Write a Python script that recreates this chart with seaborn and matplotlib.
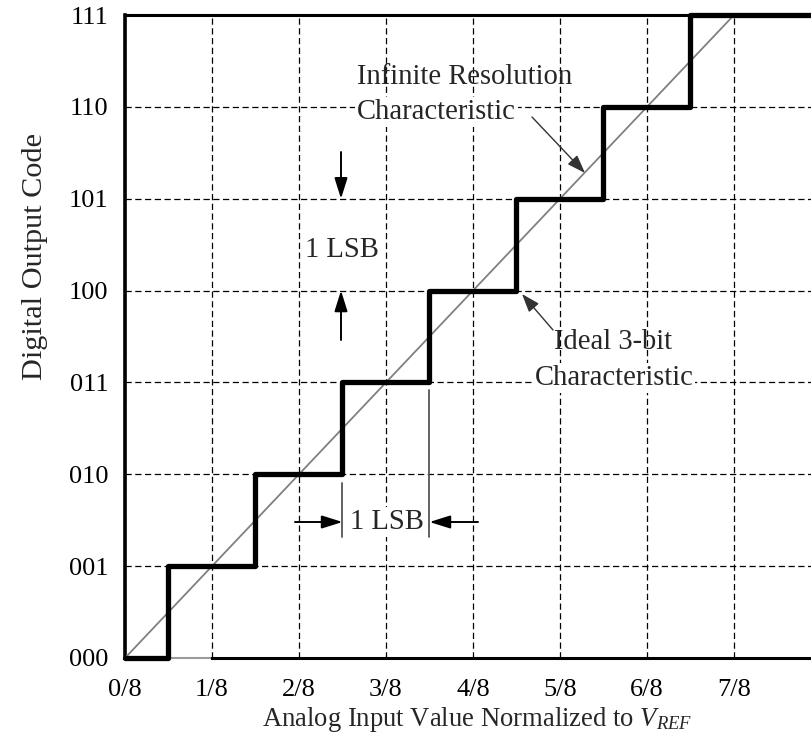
import matplotlib
matplotlib.use("Agg")
import matplotlib.pyplot as plt
import seaborn as sns
import numpy as np
import pandas as pd

# ---- data ----
codes = [0, 1, 2, 3, 4, 5, 6, 7]
code_labels = ["000", "001", "010", "011", "100", "101", "110", "111"]
step_edges = [0, 0.5, 1.5, 2.5, 3.5, 4.5, 5.5, 6.5, 8]          # in eighths
step_codes = [0, 1, 2, 3, 4, 5, 6, 7, 7]
ideal_x = [0, 7]                                                # in eighths
ideal_y = [0, 7]
x_ticks = [0, 1, 2, 3, 4, 5, 6, 7]
x_tick_labels = ["0/8", "1/8", "2/8", "3/8", "4/8", "5/8", "6/8", "7/8"]
minor_ticks = [0.5, 1.5, 2.5, 3.5, 4.5, 5.5, 6.5, 7.5]

sns.set_style("white")
plt.rcParams["font.family"] = ["Liberation Serif", "DejaVu Serif"]
plt.rcParams["mathtext.fontset"] = "custom"
plt.rcParams["mathtext.rm"] = "Liberation Serif"
plt.rcParams["mathtext.it"] = "Liberation Serif:italic"

W, H = 812, 738
fig = plt.figure(figsize=(W / 100, H / 100), dpi=100)
L, R, T, B = 125, 821, 15, 658
ax = fig.add_axes([L / W, (H - B) / H, (R - L) / W, (B - T) / H])

step_df = pd.DataFrame({"x": np.array(step_edges) / 8, "code": step_codes})
ideal_df = pd.DataFrame({"x": np.array(ideal_x) / 8, "code": ideal_y})

sns.lineplot(data=ideal_df, x="x", y="code", ax=ax, color="#808080", lw=1.3, zorder=3)
sns.lineplot(data=step_df, x="x", y="code", ax=ax, color="black", lw=3.8,
             drawstyle="steps-post", zorder=4, clip_on=False)

ax.set_xlim(0, 1)
ax.set_ylim(0, 7)

ax.set_xticks(np.array(x_ticks) / 8)
ax.set_xticklabels(x_tick_labels)
ax.set_xticks(np.array(minor_ticks) / 8, minor=True)
ax.set_yticks(codes)
ax.set_yticklabels(code_labels)

ax.tick_params(axis="x", which="major", direction="out", length=5, width=0.8,
               labelsize=19, pad=10, colors="black")
ax.tick_params(axis="x", which="minor", direction="in", length=7, width=1.8,
               colors="black")
ax.tick_params(axis="y", which="major", direction="in", length=3.5, width=1.2,
               labelsize=19, pad=12, colors="black")

ax.grid(True, which="major", color="black", lw=0.9, linestyle=(0, (5, 2.8)))
ax.set_axisbelow(True)

for s in ["left", "bottom", "top"]:
    ax.spines[s].set_color("black")
ax.spines["left"].set_linewidth(2.6)
ax.spines["top"].set_linewidth(2.2)
ax.spines["bottom"].set_linewidth(2.2)
ax.spines["right"].set_visible(False)
ax.spines["bottom"].set_bounds(1 / 8, 1)
ax.axhline(0, xmin=0, xmax=1 / 8, color="#9a9a9a", lw=1.5, zorder=2, clip_on=False)

ax.set_xlabel("Analog Input Value Normalized to $V_{REF}$", fontsize=19.2)
ax.xaxis.set_label_coords((477 - L) / (R - L), (B - 720) / (B - T))
ax.xaxis.label.set_va("center")
ax.set_ylabel("Digital Output Code", fontsize=21.8)
ax.yaxis.set_label_coords((35 - L) / (R - L), (B - 256) / (B - T))
ax.yaxis.label.set_va("center")

def px(xp, yp):
    return ((xp - L) / (R - L), (B - yp) / ((B - T) / 7))

arrow = dict(arrowstyle="-|>,head_length=0.7,head_width=0.22", mutation_scale=18,
             lw=1.4, color="black", shrinkA=0, shrinkB=0)
thin_arrow = dict(arrowstyle="-|>,head_length=0.7,head_width=0.25", mutation_scale=16,
                  lw=1.0, color="#333333", shrinkA=0, shrinkB=0)
wbox = dict(facecolor="white", edgecolor="none", pad=1.5)
fs = 20.6

# Infinite resolution characteristic
ax.text(*px(357, 77), "Infinite Resolution", fontsize=fs, ha="left", va="center", zorder=6)
ax.text(*px(357, 112), "Characteristic", fontsize=fs, ha="left", va="center",
        bbox=wbox, zorder=6)
ax.annotate("", xy=px(585, 173), xytext=px(532, 117), arrowprops=thin_arrow, zorder=6)

# Ideal 3-bit characteristic
ax.text(*px(613, 342), "Ideal 3-bit", fontsize=fs, ha="center", va="center", zorder=6)
ax.text(*px(614, 378), "Characteristic", fontsize=fs, ha="center", va="center",
        bbox=wbox, zorder=6)
ax.annotate("", xy=px(522, 294), xytext=px(553, 330), arrowprops=thin_arrow, zorder=6)

# vertical 1 LSB
ax.text(*px(342, 250), "1 LSB", fontsize=fs, ha="center", va="center", zorder=6)
ax.annotate("", xy=(px(341, 0)[0], 5), xytext=px(341, 152), arrowprops=arrow, zorder=6)
ax.annotate("", xy=(px(341, 0)[0], 4), xytext=px(341, 340), arrowprops=arrow, zorder=6)

# horizontal 1 LSB
ax.plot([2.5 / 8, 2.5 / 8], [px(0, 483)[1], px(0, 537)[1]], color="#555555", lw=1.3, zorder=5)
ax.plot([3.5 / 8, 3.5 / 8], [px(0, 390)[1], px(0, 537)[1]], color="#555555", lw=1.3, zorder=5)
ax.text(*px(387, 522), "1 LSB", fontsize=fs, ha="center", va="center", bbox=wbox, zorder=6)
ax.annotate("", xy=(2.5 / 8, px(0, 522)[1]), xytext=px(295, 522), arrowprops=arrow, zorder=6)
ax.annotate("", xy=(3.5 / 8, px(0, 522)[1]), xytext=px(478, 522), arrowprops=arrow, zorder=6)

fig.savefig("out.png", dpi=100)
